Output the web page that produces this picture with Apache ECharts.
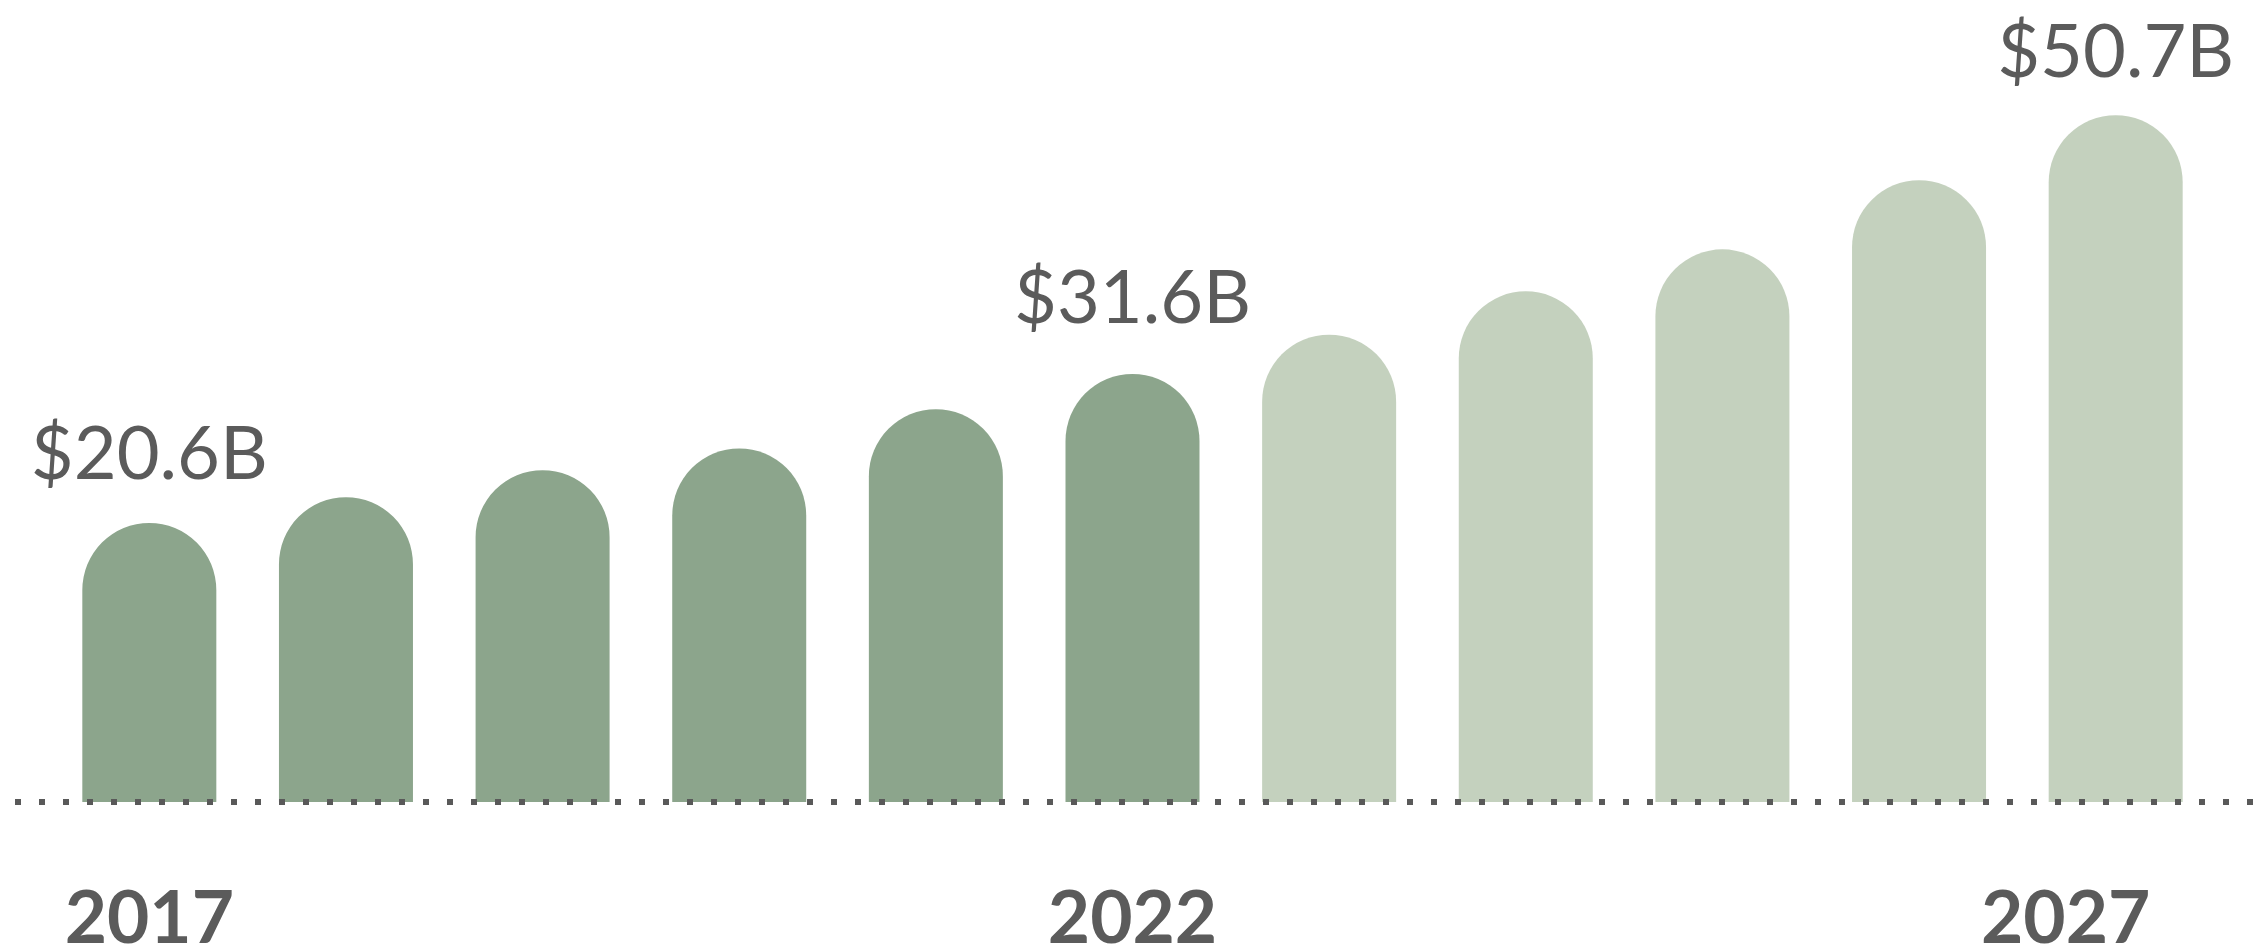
<!DOCTYPE html>
<html>
<head>
<meta charset="utf-8">
<script src="https://cdn.jsdelivr.net/npm/echarts@6/dist/echarts.min.js"></script>
<style>
  html, body { margin: 0; padding: 0; background: #ffffff; }
  #chart { width: 2255px; height: 950px; }
</style>
</head>
<body>
<div id="chart"></div>
<script>
// ---- data ----
const years = ['2017', '2018', '2019', '2020', '2021', '2022', '2023', '2024', '2025', '2026', '2027'];
const marketSize = [20.6, 22.5, 24.5, 26.1, 29.0, 31.6, 34.5, 37.7, 40.8, 45.9, 50.7]; // $B
const isForecast = [false, false, false, false, false, false, true, true, true, true, true];
const labeledYears = ['2017', '2022', '2027'];

// ---- styling ----
const textColor = '#5b5b5b';
const actualColor = '#8ca58c';
const forecastColor = '#c4d1be';
const labelGap = { '2017': 31, '2022': 38, '2027': 25 };

const barData = marketSize.map((v, i) => ({
  value: v,
  itemStyle: { color: isForecast[i] ? forecastColor : actualColor },
  label: {
    show: labeledYears.includes(years[i]),
    distance: labelGap[years[i]] || 30
  }
}));

const lastYear = years[years.length - 1];

const chart = echarts.init(document.getElementById('chart'), null, { renderer: 'canvas' });
chart.setOption({
  backgroundColor: '#ffffff',
  animation: false,
  grid: [
    { left: 51, right: 41, top: 57, bottom: 148, containLabel: false, outerBoundsMode: 'none' },
    { left: 15, right: 0, top: 57, bottom: 148, containLabel: false, outerBoundsMode: 'none' }
  ],
  xAxis: [
    {
      type: 'category',
      gridIndex: 0,
      data: years,
      boundaryGap: true,
      axisLine: { show: false },
      axisTick: { show: false },
      axisLabel: {
        interval: 0,
        formatter: (val) => {
          if (!labeledYears.includes(val)) return '';
          return val === lastYear ? '{last|' + val + '}' : '{y|' + val + '}';
        },
        margin: 81,
        rich: {
          y: {
            color: textColor,
            fontFamily: 'Lato',
            fontWeight: 'bold',
            fontSize: 73
          },
          last: {
            color: textColor,
            fontFamily: 'Lato',
            fontWeight: 'bold',
            fontSize: 73,
            padding: [0, 100, 0, 0]
          }
        }
      }
    },
    {
      type: 'value',
      gridIndex: 1,
      min: 0,
      max: 1,
      z: 10,
      axisLine: {
        show: true,
        lineStyle: { color: '#595959', width: 6, type: [6, 18], cap: 'butt' }
      },
      axisTick: { show: false },
      axisLabel: { show: false },
      splitLine: { show: false }
    }
  ],
  yAxis: [
    {
      type: 'value',
      gridIndex: 0,
      min: 0,
      max: 55,
      show: false,
      splitLine: { show: false }
    },
    {
      type: 'value',
      gridIndex: 1,
      min: 0,
      max: 1,
      show: false
    }
  ],
  series: [
    {
      type: 'bar',
      xAxisIndex: 0,
      yAxisIndex: 0,
      data: barData,
      barWidth: 134,
      itemStyle: { borderRadius: [67, 67, 0, 0] },
      label: {
        position: 'top',
        color: textColor,
        fontFamily: 'Lato',
        fontWeight: 'normal',
        fontSize: 74,
        formatter: (p) => '$' + p.value.toFixed(1) + 'B'
      }
    },
    {
      type: 'scatter',
      xAxisIndex: 1,
      yAxisIndex: 1,
      data: [],
      silent: true
    }
  ]
});
</script>
</body>
</html>
